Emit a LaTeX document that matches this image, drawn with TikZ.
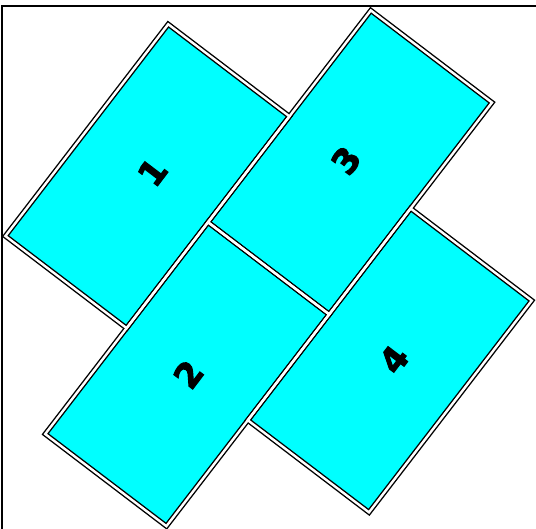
\documentclass[tikz,border=0pt]{standalone}
\usepackage{fontspec}
\setmainfont{DejaVu Sans}
\newfontfamily\digitfont{DejaVu Sans Bold}[FakeBold=3]
\definecolor{tilecyan}{RGB}{0,255,255}
\begin{document}
\begin{tikzpicture}[x=1pt,y=-1pt,
  tilefill/.style={fill=tilecyan},
  tileouter/.style={draw=black,line width=5.2pt,line join=miter},
  tileinner/.style={draw=white,line width=2.4pt,line join=miter},
  digit/.style={rotate=52.8,font=\digitfont\fontsize{34}{34}\selectfont,inner sep=0pt},
  frameline/.style={draw=black,line width=1.4pt}]
\useasboundingbox (0,0) rectangle (536,529);
% grid points P(i,j)
\coordinate (p00) at (168.2,24.25);
\coordinate (p10) at (289.4,116.35);
\coordinate (p20) at (410.6,208.45);
\coordinate (p30) at (531.8,300.55);
\coordinate (p1m) at (370.8,10.45);
\coordinate (p2m) at (492.0,102.55);
\coordinate (p02) at (5.4,236.05);
\coordinate (p12) at (126.6,328.15);
\coordinate (p11) at (208.0,222.25);
\coordinate (p21) at (329.2,314.35);
\coordinate (p13) at (45.2,434.05);
\coordinate (p23) at (166.4,526.15);
\coordinate (p22) at (247.8,420.25);
\coordinate (p32) at (369.0,512.35);
% frame
\coordinate (fbl) at (2,529);
\coordinate (ftl) at (2,6);
\coordinate (ftr) at (536,6);
\draw[frameline] (fbl) -- (ftl) -- (ftr);
% fills
\foreach \a/\b/\c/\d in {p00/p10/p12/p02, p1m/p2m/p21/p11, p11/p21/p23/p13, p20/p30/p32/p22}
  \path[tilefill] (\a) -- (\b) -- (\c) -- (\d) -- cycle;
% black strokes
\foreach \a/\b/\c/\d in {p00/p10/p12/p02, p1m/p2m/p21/p11, p11/p21/p23/p13, p20/p30/p32/p22}
  \path[tileouter] (\a) -- (\b) -- (\c) -- (\d) -- cycle;
% white cores
\foreach \a/\b/\c/\d in {p00/p10/p12/p02, p1m/p2m/p21/p11, p11/p21/p23/p13, p20/p30/p32/p22}
  \path[tileinner] (\a) -- (\b) -- (\c) -- (\d) -- cycle;
% labels
\node[digit] (l1) at (152.4,172.2) {1};
\node[digit] (l3) at (346.0,160.4) {3};
\node[digit] (l2) at (188.2,374.2) {2};
\node[digit] (l4) at (393.8,359.4) {4};
\end{tikzpicture}
\end{document}
